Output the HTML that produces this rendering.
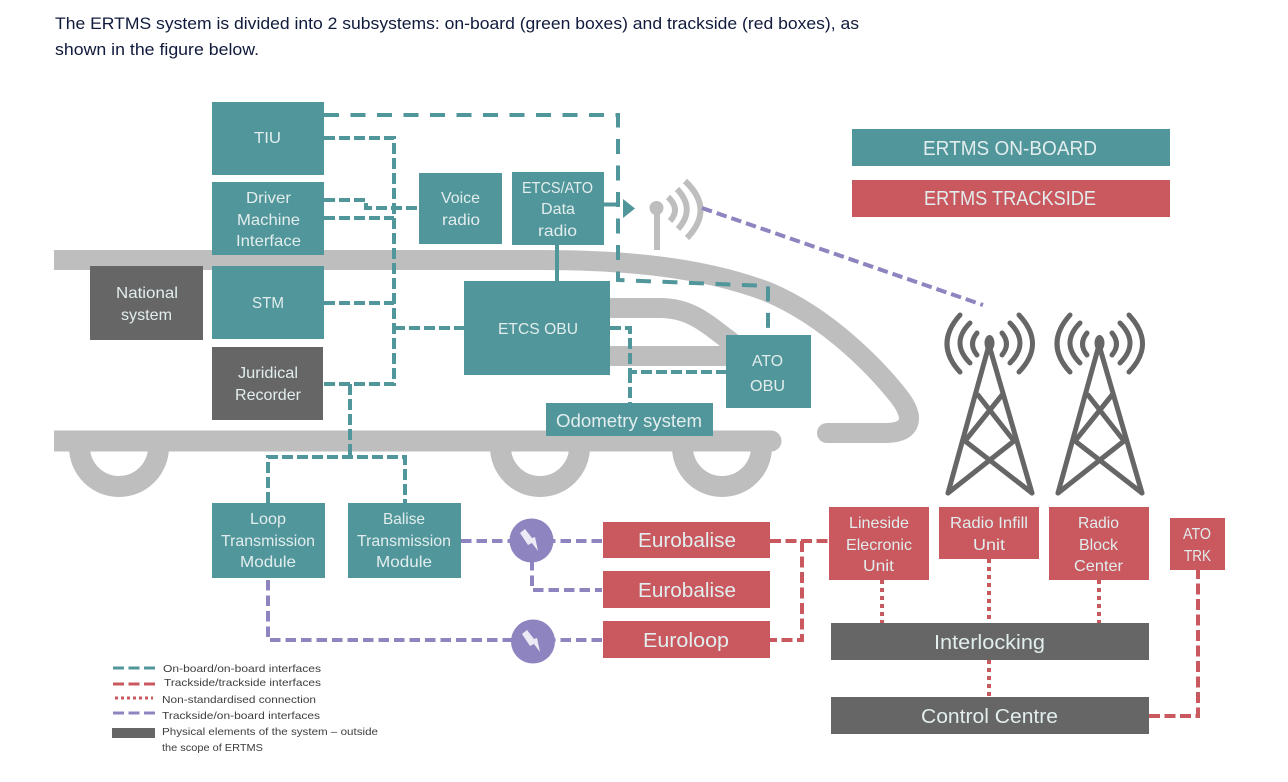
<!DOCTYPE html>
<html><head><meta charset="utf-8"><title>ERTMS</title>
<style>
html,body{margin:0;padding:0;background:#fff}
svg{display:block}
text{font-family:"Liberation Sans",sans-serif}
.b text{fill:#e2eded;font-size:16px;text-anchor:middle}
.t{fill:#51969b}.r{fill:#c9585f}.g{fill:#666}
.tl{fill:none;stroke:#51969b;stroke-width:4;stroke-dasharray:11 4}
.tw2{fill:none;stroke:#51969b;stroke-width:4;stroke-dasharray:15 11.500}
.rl{fill:none;stroke:#c9585f;stroke-width:4;stroke-dasharray:11 4.500}
.pl{fill:none;stroke:#8e84bf;stroke-width:4;stroke-dasharray:10.500 5}
.dl{fill:none;stroke:#c9585f;stroke-width:4;stroke-dasharray:4 4}
.tr{fill:none;stroke:#bebebe;stroke-linecap:butt}
.tw{fill:none;stroke:#666;stroke-width:5;stroke-linecap:round;stroke-linejoin:round}
.lg text{fill:#3d3d3d;font-size:10.5px}
</style></head>
<body>
<svg width="1288" height="782" viewBox="0 0 1288 782" xmlns="http://www.w3.org/2000/svg">
<rect width="1288" height="782" fill="#fff"/>
<text x="55" y="29" font-size="16.5" fill="#101a3c" textLength="804" lengthAdjust="spacingAndGlyphs">The ERTMS system is divided into 2 subsystems: on-board (green boxes) and trackside (red boxes), as</text>
<text x="55" y="55" font-size="16.5" fill="#101a3c" textLength="204" lengthAdjust="spacingAndGlyphs">shown in the figure below.</text>

<!-- train -->
<g class="tr">
<path stroke-width="20" d="M54 260H540C620 260 700 266 768 292C830 318 880 372 900 398C915 418 912 433 885 433H827"/>
<path stroke-width="20" stroke-linecap="round" d="M827 433H840"/>
<path stroke-width="20" d="M600 308H660C690 308 705 322 735 345"/>
<path stroke-width="20" d="M600 356H735"/>
<path stroke-width="21" d="M54 441H771"/>
<path stroke-width="21" stroke-linecap="round" d="M765 441H771"/>
<path stroke-width="21" d="M79.500 447A39.500 39.500 0 0 0 158.500 447"/>
<path stroke-width="21" d="M500.500 447A39.500 39.500 0 0 0 579.500 447"/>
<path stroke-width="21" d="M682.500 447A39.500 39.500 0 0 0 761.500 447"/>
<path stroke-width="6" d="M657 208V250"/>
<circle cx="656.500" cy="208" r="7" fill="#bebebe" stroke="none"/>
<path stroke-width="6" d="M668 197Q681 209 670 221"/>
<path stroke-width="6" d="M677 189Q696 209 678 229"/>
<path stroke-width="6" d="M685 181Q715 209 687 238"/>
</g>

<!-- teal connectors -->
<path class="tw2" d="M324 115H618V280L768 286V335"/>
<path class="tl" d="M324 138H394V384H324"/>
<path class="tl" d="M324 200H366V208H419"/>
<path class="tl" d="M324 218H394"/>
<path class="tl" d="M324 303H394"/>
<path class="tl" d="M394 328H464"/>
<path class="tl" d="M350 384V457"/>
<path class="tl" d="M268 503V457H405V503"/>
<path d="M557 245V281" stroke="#51969b" stroke-width="4" fill="none"/>
<path d="M604 204.500H620" stroke="#51969b" stroke-width="4" fill="none"/>
<polygon points="623,199 635,208.500 623,218" fill="#51969b"/>
<path class="tl" d="M610 328H630V372H726"/>
<path class="tl" d="M630 372V403"/>

<!-- purple connectors -->
<path class="pl" d="M702 208L983 305"/>
<path class="pl" d="M461 541H512"/>
<path class="pl" d="M602 541H550"/>
<path class="pl" d="M532 560V590H602"/>
<path class="pl" d="M268 580V640H515"/>
<path class="pl" d="M602 640H550"/>
<circle cx="531.500" cy="540.500" r="22" fill="#8e84bf"/>
<circle cx="533" cy="641.500" r="22" fill="#8e84bf"/>
<polygon points="520,533 525,529 532,538 535,537 538,551 532,543 528,545" fill="#eceaf5"/>
<polygon points="522,634 527,630 534,639 537,638 540,652 534,644 530,646" fill="#eceaf5"/>

<!-- red connectors -->
<path class="rl" d="M770 541H829"/>
<path class="rl" d="M802 541V640H770"/>
<path class="rl" d="M1149 716H1198V570"/>
<path class="dl" d="M882 580V623"/>
<path class="dl" d="M989 559V623"/>
<path class="dl" d="M1099 580V623"/>
<path class="dl" d="M989 660V697"/>

<!-- towers -->
<g>
<g class="tw">
<path d="M948 493L989 345L1032 493"/>
<path d="M948 493L1014 441L978 395"/>
<path d="M1032 493L965 441L1002 395"/>
<path d="M977 333Q968 344 977 355"/>
<path d="M970 323Q950 343 970 363"/>
<path d="M960 315Q934 344 960 372"/>
<path d="M1002 333Q1011 344 1002 355"/>
<path d="M1010 323Q1030 343 1010 363"/>
<path d="M1019 315Q1046 344 1019 372"/>
</g>
<ellipse cx="989.500" cy="343" rx="5" ry="8" fill="#666"/>
</g>
<g transform="translate(110 0)">
<g class="tw">
<path d="M948 493L989 345L1032 493"/>
<path d="M948 493L1014 441L978 395"/>
<path d="M1032 493L965 441L1002 395"/>
<path d="M977 333Q968 344 977 355"/>
<path d="M970 323Q950 343 970 363"/>
<path d="M960 315Q934 344 960 372"/>
<path d="M1002 333Q1011 344 1002 355"/>
<path d="M1010 323Q1030 343 1010 363"/>
<path d="M1019 315Q1046 344 1019 372"/>
</g>
<ellipse cx="989.500" cy="343" rx="5" ry="8" fill="#666"/>
</g>

<!-- boxes -->
<rect class="t" x="212" y="102" width="112" height="73"/>
<rect class="t" x="212" y="182" width="112" height="73"/>
<rect class="t" x="212" y="266" width="112" height="73"/>
<rect class="g" x="212" y="347" width="111" height="73"/>
<rect class="g" x="90" y="266" width="113" height="74"/>
<rect class="t" x="419" y="173" width="83" height="71"/>
<rect class="t" x="512" y="172" width="92" height="73"/>
<rect class="t" x="464" y="281" width="146" height="94"/>
<rect class="t" x="726" y="335" width="85" height="73"/>
<rect class="t" x="546" y="403" width="167" height="33"/>
<rect class="t" x="212" y="503" width="113" height="75"/>
<rect class="t" x="348" y="503" width="113" height="75"/>
<rect class="r" x="603" y="522" width="167" height="36"/>
<rect class="r" x="603" y="571" width="167" height="37"/>
<rect class="r" x="603" y="621" width="167" height="37"/>
<rect class="r" x="829" y="507" width="100" height="73"/>
<rect class="r" x="939" y="507" width="100" height="52"/>
<rect class="r" x="1049" y="507" width="100" height="73"/>
<rect class="r" x="1170" y="518" width="55" height="52"/>
<rect class="g" x="831" y="623" width="318" height="37"/>
<rect class="g" x="831" y="697" width="318" height="37"/>
<rect class="t" x="852" y="129" width="318" height="37"/>
<rect class="r" x="852" y="180" width="318" height="37"/>

<g class="b">
<text x="267.500" y="143" textLength="27" lengthAdjust="spacingAndGlyphs">TIU</text>
<text x="268.500" y="203" textLength="45" lengthAdjust="spacingAndGlyphs">Driver</text>
<text x="268.500" y="225" textLength="63" lengthAdjust="spacingAndGlyphs">Machine</text>
<text x="268.500" y="246" textLength="65" lengthAdjust="spacingAndGlyphs">Interface</text>
<text x="268" y="308" textLength="32" lengthAdjust="spacingAndGlyphs">STM</text>
<text x="147" y="298" textLength="62" lengthAdjust="spacingAndGlyphs">National</text>
<text x="146.500" y="320" textLength="51" lengthAdjust="spacingAndGlyphs">system</text>
<text x="268" y="378" textLength="60" lengthAdjust="spacingAndGlyphs">Juridical</text>
<text x="268" y="400" textLength="66" lengthAdjust="spacingAndGlyphs">Recorder</text>
<text x="460.500" y="203" textLength="39" lengthAdjust="spacingAndGlyphs">Voice</text>
<text x="461" y="225" textLength="38" lengthAdjust="spacingAndGlyphs">radio</text>
<text x="557.500" y="193" textLength="71" lengthAdjust="spacingAndGlyphs">ETCS/ATO</text>
<text x="558" y="214" textLength="34" lengthAdjust="spacingAndGlyphs">Data</text>
<text x="557.500" y="236" textLength="39" lengthAdjust="spacingAndGlyphs">radio</text>
<text x="538" y="334" textLength="80" lengthAdjust="spacingAndGlyphs">ETCS OBU</text>
<text x="767.500" y="366" textLength="31" lengthAdjust="spacingAndGlyphs">ATO</text>
<text x="767.500" y="391" textLength="35" lengthAdjust="spacingAndGlyphs">OBU</text>
<text x="629" y="427" style="font-size:18px" textLength="146" lengthAdjust="spacingAndGlyphs">Odometry system</text>
<text x="268" y="524" textLength="36" lengthAdjust="spacingAndGlyphs">Loop</text>
<text x="268" y="546" textLength="94" lengthAdjust="spacingAndGlyphs">Transmission</text>
<text x="268" y="567" textLength="56" lengthAdjust="spacingAndGlyphs">Module</text>
<text x="404" y="524" textLength="42" lengthAdjust="spacingAndGlyphs">Balise</text>
<text x="404" y="546" textLength="94" lengthAdjust="spacingAndGlyphs">Transmission</text>
<text x="404" y="567" textLength="56" lengthAdjust="spacingAndGlyphs">Module</text>
<text x="687" y="547" style="font-size:20px" textLength="98" lengthAdjust="spacingAndGlyphs">Eurobalise</text>
<text x="687" y="597" style="font-size:20px" textLength="98" lengthAdjust="spacingAndGlyphs">Eurobalise</text>
<text x="686" y="647" style="font-size:20px" textLength="86" lengthAdjust="spacingAndGlyphs">Euroloop</text>
<text x="879" y="528" textLength="60" lengthAdjust="spacingAndGlyphs">Lineside</text>
<text x="879" y="550" textLength="66" lengthAdjust="spacingAndGlyphs">Elecronic</text>
<text x="878.500" y="571" textLength="31" lengthAdjust="spacingAndGlyphs">Unit</text>
<text x="989" y="528" textLength="78" lengthAdjust="spacingAndGlyphs">Radio Infill</text>
<text x="989" y="550" textLength="32" lengthAdjust="spacingAndGlyphs">Unit</text>
<text x="1098.500" y="528" textLength="41" lengthAdjust="spacingAndGlyphs">Radio</text>
<text x="1098.500" y="550" textLength="39" lengthAdjust="spacingAndGlyphs">Block</text>
<text x="1098.500" y="571" textLength="49" lengthAdjust="spacingAndGlyphs">Center</text>
<text x="1197" y="539" textLength="28" lengthAdjust="spacingAndGlyphs">ATO</text>
<text x="1197.500" y="561" textLength="27" lengthAdjust="spacingAndGlyphs">TRK</text>
<text x="989.500" y="649" style="font-size:20px" textLength="111" lengthAdjust="spacingAndGlyphs">Interlocking</text>
<text x="989.500" y="723" style="font-size:20px" textLength="137" lengthAdjust="spacingAndGlyphs">Control Centre</text>
<text x="1010" y="155" style="font-size:20px" textLength="174" lengthAdjust="spacingAndGlyphs">ERTMS ON-BOARD</text>
<text x="1010" y="205" style="font-size:20px" textLength="172" lengthAdjust="spacingAndGlyphs">ERTMS TRACKSIDE</text>
</g>

<!-- legend -->
<g class="lg">
<path class="tl" d="M113 668H155" style="stroke-dasharray:11 4.500;stroke-width:3"/>
<path class="rl" d="M113 684H155" style="stroke-dasharray:11 4.500;stroke-width:3"/>
<path class="dl" d="M115 698H153" style="stroke-width:3;stroke-dasharray:3 3"/>
<path class="pl" d="M113 713H155" style="stroke-dasharray:11 4.500;stroke-width:3"/>
<rect class="g" x="112" y="728" width="43" height="10"/>
<text x="163" y="672" textLength="158" lengthAdjust="spacingAndGlyphs">On-board/on-board interfaces</text>
<text x="164" y="686" textLength="157" lengthAdjust="spacingAndGlyphs">Trackside/trackside interfaces</text>
<text x="162" y="703" textLength="154" lengthAdjust="spacingAndGlyphs">Non-standardised connection</text>
<text x="162" y="719" textLength="158" lengthAdjust="spacingAndGlyphs">Trackside/on-board interfaces</text>
<text x="162" y="735" textLength="216" lengthAdjust="spacingAndGlyphs">Physical elements of the system – outside</text>
<text x="162" y="751" textLength="101" lengthAdjust="spacingAndGlyphs">the scope of ERTMS</text>
</g>
</svg>
</body></html>
